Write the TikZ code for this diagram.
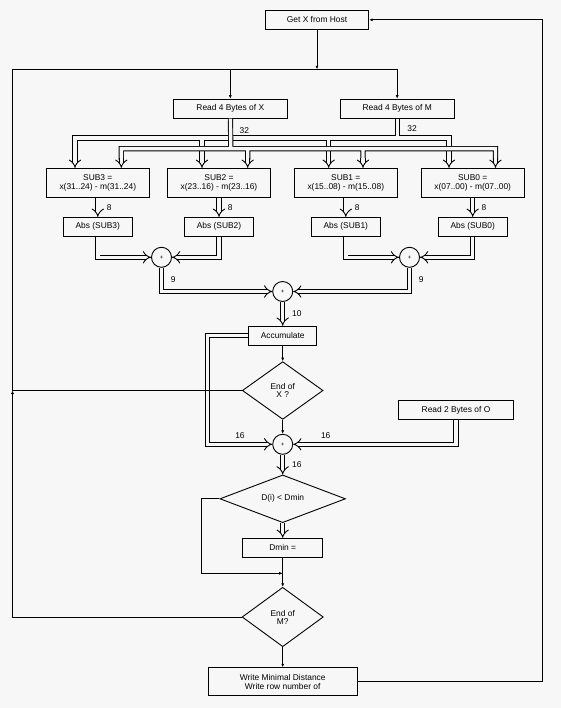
\documentclass[tikz,border=0pt]{standalone}
\usepackage{fontspec}
\setmainfont{Liberation Sans}
\usetikzlibrary{shapes.geometric,arrows.meta}
\definecolor{paper}{RGB}{247,247,247}
\tikzset{
  blk/.style={draw,fill=paper,line width=0.9pt,inner sep=0pt,align=center,
    minimum width=#1,minimum height=19pt,font=\fontsize{8.4}{9}\selectfont},
  blk/.default=69pt,
  dec/.style={diamond,draw,fill=paper,line width=0.9pt,inner sep=0pt,aspect=2,
    align=center,font=\fontsize{8.4}{8}\selectfont},
  sum/.style={circle,draw,fill=paper,line width=0.9pt,inner sep=0pt,
    minimum size=20pt,font=\fontsize{6}{6}\selectfont},
  wire/.style={line width=0.9pt},
  link/.style={wire,-{Latex[length=3.5pt,width=3pt]}},
  bus/.style={line width=0.9pt,double=paper,double distance=3.4pt},
  busarr/.style={bus,-{Implies}},
  lbl/.style={inner sep=0pt,font=\fontsize{8.4}{9}\selectfont}
}
\begin{document}
\begin{tikzpicture}[x=1pt,y=-1pt]
  \fill[paper] (0,0) rectangle (561,708);
  \useasboundingbox (0,0) rectangle (561,708);
  \draw
    (317,19.8) node[blk=103.5pt] (getx){Get X from Host}
    (230.3,108.7) node[blk=113.5pt] (readx){Read 4 Bytes of X}
    (397.2,108.7) node[blk=114.4pt] (readm){Read 4 Bytes of M}
    (97.8,182.8) node[blk=102.7pt,minimum height=29pt] (sub3){SUB3 =\\x(31..24) - m(31..24)}
    (219,182.8) node[blk=102.7pt,minimum height=29pt] (sub2){SUB2 =\\x(23..16) - m(23..16)}
    (345.8,182.8) node[blk=102.7pt,minimum height=29pt] (sub1){SUB1 =\\x(15..08) - m(15..08)}
    (472.7,182.8) node[blk=102.7pt,minimum height=29pt] (sub0){SUB0 =\\x(07..00) - m(07..00)}
    (97.8,226.8) node[blk] (abs3){Abs (SUB3)}
    (219,226.8) node[blk] (abs2){Abs (SUB2)}
    (345.8,226.8) node[blk] (abs1){Abs (SUB1)}
    (472.7,226.8) node[blk] (abs0){Abs (SUB0)}
    (161.5,257.3) node[sum] (add32){+}
    (409.5,257.3) node[sum] (add10){+}
    (282.7,291.5) node[sum] (addf){+}
    (282.7,335.7) node[blk=68.3pt] (acc){Accumulate}
    (282.7,390.5) node[dec,minimum width=80.7pt,minimum height=57.7pt] (endx){End of\\X ?}
    (282.7,444.3) node[sum] (addg){+}
    (456,410) node[blk=115.4pt,minimum height=18.6pt] (rd2){Read 2 Bytes of O}
    (282.7,498.8) node[dec,minimum width=125.6pt,minimum height=47.7pt] (dcmp){D(i) < Dmin}
    (282.7,547.8) node[blk=80.2pt] (dmin){Dmin =}
    (282.7,617) node[dec,minimum width=81.2pt,minimum height=59.4pt] (endm){End of\\M?}
    (282.7,681.7) node[blk=149.2pt,minimum height=28pt] (write){Write Minimal Distance\\Write row number of};
  \coordinate (split) at (317,69.3);
  \coordinate (lx) at (12.5,390.5);
  \coordinate (rx) at (542.4,300);
  \coordinate (jn) at (282.7,573.3);
  \coordinate (lvm) at (397.2,138);
  \coordinate (lvx) at (230.8,148.7);
  \coordinate (m3) at ([xshift=-22.8pt]sub3.north);
  \coordinate (x3) at ([xshift=23.5pt]sub3.north);
  \coordinate (m2) at ([xshift=-17pt]sub2.north);
  \coordinate (x2) at ([xshift=28.7pt]sub2.north);
  \coordinate (m1) at ([xshift=-17.1pt]sub1.north);
  \coordinate (x1) at ([xshift=17.2pt]sub1.north);
  \coordinate (m0) at ([xshift=-23.7pt]sub0.north);
  \coordinate (x0) at ([xshift=22.8pt]sub0.north);
  \draw[bus] (readm) -- (lvm) -| ([yshift=8pt]m3) (lvm) -| ([yshift=8pt]m0)
    (m2 |- lvm) -- ([yshift=8pt]m2) (m1 |- lvm) -- ([yshift=8pt]m1);
  \draw[bus] (readx) -- (lvx) -| ([yshift=8pt]x3) (lvx) -| ([yshift=8pt]x0)
    (x2 |- lvx) -- ([yshift=8pt]x2) (x1 |- lvx) -- ([yshift=8pt]x1);
  \foreach \p in {m3,m2,m1,m0,x3,x2,x1,x0}
    \draw[busarr] ([yshift=10pt]\p) -- (\p);
  \path (readx.south) -- node[lbl,right=9pt,pos=0.4]{32} (lvx);
  \path (readm.south) -- node[lbl,right=10pt]{32} (lvm);
  \foreach \i in {0,...,3}
    \draw[busarr] (sub\i) to node[lbl,right=8.5pt]{8} (abs\i);
  \draw[busarr] (abs3) |- (add32);
  \draw[busarr] (abs2) |- (add32);
  \draw[busarr] (abs1) |- (add10);
  \draw[busarr] (abs0) |- (add10);
  \draw[busarr] (add32) |- node[lbl,pos=0.25,right=9pt]{9} (addf);
  \draw[busarr] (add10) |- node[lbl,pos=0.25,right=9pt]{9} (addf);
  \draw[busarr] (addf) to node[lbl,right=9pt]{10} (acc);
  \draw[busarr] (acc.west) -- ++(-40.5,0) |- node[lbl,pos=0.75,above=5pt]{16} (addg);
  \draw[busarr] (rd2) |- node[lbl,pos=0.9,above=5pt]{16} (addg);
  \draw[busarr] (addg) to node[lbl,right=9pt]{16} (dcmp);
  \draw[busarr] (dcmp) to (dmin);
  \draw[link] (getx) to (split);
  \draw[link] (split) -| (readx);
  \draw[link] (split) -| (readm);
  \draw[wire] (endx) -- (lx) |- (split);
  \draw[link] (endm) -| (lx);
  \draw[link] (acc) to (endx);
  \draw[link] (endx) to (addg);
  \draw[link] (dcmp.west) -- ++(-18.2,0) |- (jn);
  \draw[link] (dmin) to (endm);
  \draw[link] (endm) to (write);
  \draw[link] (write) -| (rx) |- (getx);
\end{tikzpicture}
\end{document}
